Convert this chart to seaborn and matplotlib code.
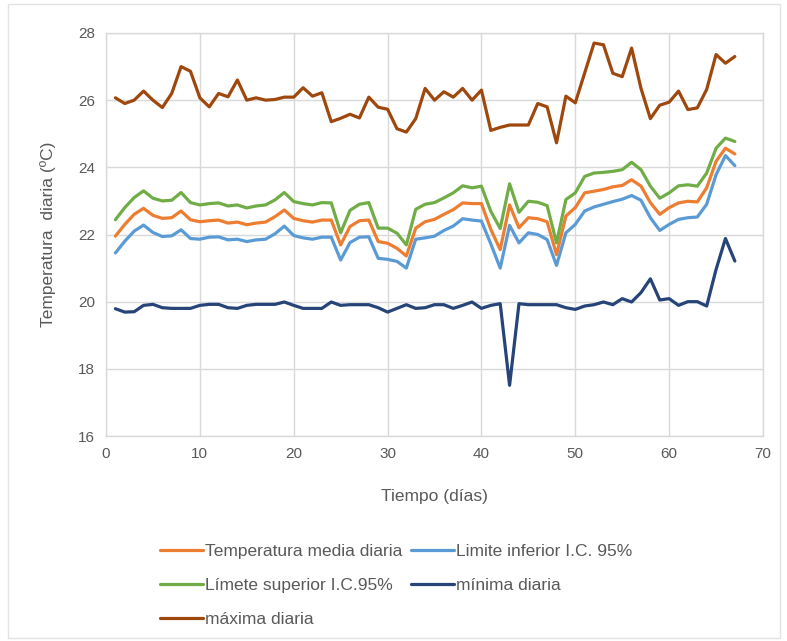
import matplotlib
matplotlib.use("Agg")
import matplotlib.pyplot as plt
import matplotlib.patches as mpatches
import numpy as np
import pandas as pd
import seaborn as sns

days = list(range(1, 68))

media = [21.95, 22.3, 22.6, 22.78, 22.57, 22.48, 22.5, 22.7, 22.44, 22.38,
         22.41, 22.43, 22.34, 22.37, 22.29, 22.34, 22.37, 22.53, 22.73, 22.48,
         22.41, 22.37, 22.43, 22.43, 21.69, 22.24, 22.41, 22.43, 21.79, 21.74,
         21.59, 21.36, 22.19, 22.38, 22.45, 22.6, 22.74, 22.94, 22.92, 22.92,
         22.15, 21.55, 22.88, 22.2, 22.5, 22.47, 22.38, 21.4, 22.55, 22.8,
         23.24, 23.29, 23.34, 23.42, 23.46, 23.63, 23.44, 22.95, 22.6, 22.8,
         22.94, 22.99, 22.97, 23.39, 24.18, 24.57, 24.4]

inferior = [21.45, 21.8, 22.1, 22.28, 22.06, 21.94, 21.96, 22.14, 21.88, 21.86,
            21.92, 21.93, 21.84, 21.86, 21.79, 21.84, 21.86, 22.02, 22.25, 21.97,
            21.9, 21.86, 21.92, 21.92, 21.24, 21.76, 21.92, 21.93, 21.29, 21.26,
            21.2, 21.0, 21.86, 21.9, 21.95, 22.12, 22.25, 22.47, 22.43, 22.4,
            21.72, 21.0, 22.27, 21.75, 22.05, 22.0, 21.85, 21.08, 22.05, 22.3,
            22.7, 22.82, 22.9, 22.98, 23.05, 23.16, 23.02, 22.5, 22.12, 22.3,
            22.45, 22.5, 22.52, 22.9, 23.78, 24.35, 24.05]

superior = [22.44, 22.8, 23.1, 23.3, 23.08, 23.0, 23.02, 23.25, 22.95, 22.88,
            22.92, 22.94, 22.85, 22.88, 22.79, 22.85, 22.88, 23.03, 23.25, 22.98,
            22.92, 22.88, 22.95, 22.94, 22.05, 22.72, 22.9, 22.95, 22.19, 22.19,
            22.04, 21.69, 22.75, 22.9, 22.95, 23.09, 23.24, 23.45, 23.39, 23.44,
            22.69, 22.18, 23.51, 22.66, 22.99, 22.96, 22.86, 21.75, 23.04, 23.24,
            23.73, 23.83, 23.85, 23.88, 23.93, 24.15, 23.93, 23.44, 23.08, 23.24,
            23.45, 23.48, 23.44, 23.83, 24.57, 24.87, 24.77]

minima = [19.79, 19.69, 19.7, 19.89, 19.92, 19.82, 19.8, 19.8, 19.8, 19.89,
          19.92, 19.92, 19.82, 19.8, 19.89, 19.92, 19.92, 19.92, 19.99, 19.89,
          19.8, 19.8, 19.8, 19.99, 19.89, 19.91, 19.91, 19.91, 19.82, 19.69,
          19.8, 19.91, 19.8, 19.82, 19.91, 19.91, 19.8, 19.89, 19.99, 19.8,
          19.89, 19.94, 17.51, 19.94, 19.91, 19.91, 19.91, 19.91, 19.82, 19.77,
          19.87, 19.91, 19.99, 19.91, 20.09, 19.99, 20.27, 20.68, 20.05, 20.09,
          19.89, 20.0, 20.0, 19.87, 20.96, 21.88, 21.21]

maxima = [26.07, 25.9, 26.0, 26.27, 26.0, 25.78, 26.2, 27.0, 26.86, 26.07,
          25.8, 26.2, 26.1, 26.6, 26.0, 26.07, 26.0, 26.02, 26.09, 26.09,
          26.37, 26.12, 26.22, 25.36, 25.46, 25.58, 25.47, 26.09, 25.79, 25.73,
          25.15, 25.05, 25.45, 26.35, 26.0, 26.25, 26.09, 26.35, 26.0, 26.3,
          25.1, 25.19, 25.26, 25.26, 25.26, 25.9, 25.8, 24.73, 26.12, 25.92,
          26.81, 27.7, 27.65, 26.8, 26.7, 27.55, 26.35, 25.45, 25.85, 25.94,
          26.27, 25.72, 25.77, 26.32, 27.36, 27.1, 27.3]

series_names = ["Temperatura media diaria", "Limite inferior I.C. 95%",
                "Límete superior I.C.95%", "mínima diaria", "máxima diaria"]
series_values = [media, inferior, superior, minima, maxima]
colors = ["#ED7D31", "#5B9BD5", "#70AD47", "#264478", "#9E480E"]

x_ticks = [0, 10, 20, 30, 40, 50, 60, 70]
y_ticks = [16, 18, 20, 22, 24, 26, 28]

df = pd.concat([pd.DataFrame({"dia": days, "valor": v, "serie": n})
                for n, v in zip(series_names, series_values)], ignore_index=True)

sns.set_theme(style="white")
plt.rcParams["font.family"] = ["Liberation Sans", "DejaVu Sans"]

fig = plt.figure(figsize=(7.87, 6.41), dpi=100)
ax = fig.add_axes([106 / 787, 1 - 436 / 641, (763 - 106) / 787, (436 - 33) / 641])

sns.lineplot(data=df, x="dia", y="valor", hue="serie", hue_order=series_names,
             palette=dict(zip(series_names, colors)), linewidth=2.3, ax=ax,
             legend=False)

ax.set_xlim(0, 70)
ax.set_ylim(16, 28)
ax.set_xticks(x_ticks)
ax.set_yticks(y_ticks)
ax.grid(True, color="#D9D9D9", linewidth=1.0)
ax.set_axisbelow(True)
for sp in ax.spines.values():
    sp.set_color("#D9D9D9")
    sp.set_linewidth(1.0)
ax.tick_params(axis="both", length=0, labelsize=11, colors="#595959", pad=8)
ax.set_xlabel("Tiempo (días)", fontsize=12.5, color="#595959", labelpad=20)
ax.set_ylabel("Temperatura  diaria (ºC)", fontsize=12.5, color="#595959", labelpad=16)

handles = [plt.Line2D([0], [0], color=c, linewidth=2.3) for c in colors]
order = [0, 2, 4, 1, 3]
fig.legend([handles[i] for i in order], [series_names[i] for i in order],
           loc="upper left", bbox_to_anchor=(144 / 787, 1 - 528 / 641),
           ncol=2, frameon=False, fontsize=12.5, handlelength=2.5,
           handletextpad=0.1, columnspacing=0.5, labelspacing=1.1,
           labelcolor="#595959")

fig.patches.append(mpatches.Rectangle((8 / 787, 3 / 641), 772 / 787, 634 / 641,
                                      transform=fig.transFigure, fill=False,
                                      edgecolor="#E3E3E3", linewidth=1.0))

fig.savefig("out.png", dpi=100)
